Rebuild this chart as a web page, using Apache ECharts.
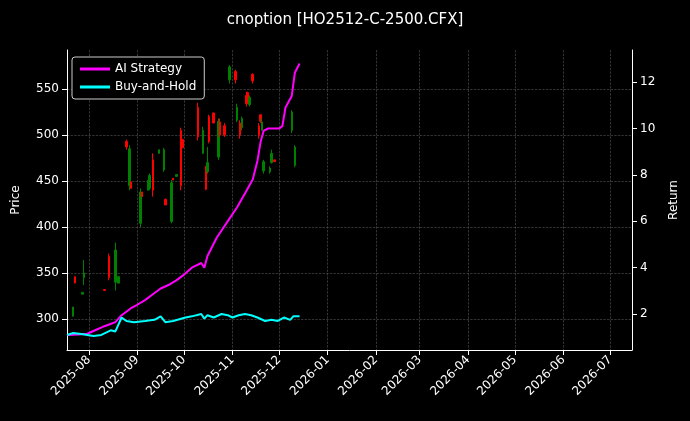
<!DOCTYPE html>
<html>
<head>
<meta charset="utf-8">
<script src="https://cdn.jsdelivr.net/npm/echarts@6/dist/echarts.min.js"></script>
<style>html,body{margin:0;background:#000}#c{width:690px;height:421px}</style>
</head>
<body>
<div id="c"></div>
<script>
// candles: [date, open, close, low, high]
var candles = [
  ['2025-07-22', 313, 303, 303, 313],
  ['2025-07-23', 339, 346, 339, 346],
  ['2025-07-28', 329, 327, 327, 329],
  ['2025-07-29', 350, 345, 337, 364],
  ['2025-08-11', 331, 332, 331, 332],
  ['2025-08-14', 345, 368, 342, 371],
  ['2025-08-18', 375, 340, 331, 383],
  ['2025-08-20', 346, 339, 339, 346],
  ['2025-08-25', 487, 493, 484, 495],
  ['2025-08-27', 485, 445, 440, 489],
  ['2025-08-28', 442, 449, 442, 450],
  ['2025-09-03', 438, 404, 400, 442],
  ['2025-09-04', 433, 438, 433, 438],
  ['2025-09-08', 447, 440, 440, 451],
  ['2025-09-09', 456, 442, 440, 458],
  ['2025-09-11', 440, 473, 433, 480],
  ['2025-09-15', 484, 480, 480, 484],
  ['2025-09-18', 484, 462, 460, 486],
  ['2025-09-19', 424, 430, 424, 431],
  ['2025-09-23', 448, 406, 404, 451],
  ['2025-09-24', 451, 453, 451, 453],
  ['2025-09-26', 457, 455, 455, 457],
  ['2025-09-29', 445, 505, 440, 508],
  ['2025-09-30', 486, 495, 486, 495],
  ['2025-10-10', 498, 530, 494, 535],
  ['2025-10-13', 505, 480, 480, 509],
  ['2025-10-15', 441, 466, 440, 466],
  ['2025-10-16', 470, 460, 458, 487],
  ['2025-10-17', 493, 520, 491, 522],
  ['2025-10-20', 513, 524, 513, 524],
  ['2025-10-23', 515, 476, 473, 518],
  ['2025-10-24', 500, 514, 498, 518],
  ['2025-10-27', 500, 510, 498, 513],
  ['2025-10-30', 574, 560, 556, 576],
  ['2025-11-03', 560, 569, 556, 571],
  ['2025-11-04', 530, 516, 514, 534],
  ['2025-11-06', 500, 513, 496, 516],
  ['2025-11-07', 518, 508, 505, 520],
  ['2025-11-10', 534, 543, 531, 547],
  ['2025-11-11', 538, 546, 536, 547],
  ['2025-11-12', 541, 533, 531, 543],
  ['2025-11-14', 559, 566, 556, 567],
  ['2025-11-18', 500, 510, 496, 513],
  ['2025-11-19', 515, 522, 513, 522],
  ['2025-11-20', 514, 505, 505, 518],
  ['2025-11-21', 471, 461, 458, 473],
  ['2025-11-25', 464, 460, 458, 466],
  ['2025-11-26', 480, 470, 469, 484],
  ['2025-11-28', 471, 473, 471, 473],
  ['2025-12-09', 525, 505, 502, 527],
  ['2025-12-11', 487, 467, 465, 489]
];
var aiStrategy = [
  ['2025-07-18', 1.10], ['2025-07-25', 1.12], ['2025-07-31', 1.15], ['2025-08-05', 1.30],
  ['2025-08-10', 1.45], ['2025-08-14', 1.55], ['2025-08-18', 1.65], ['2025-08-22', 1.95],
  ['2025-08-28', 2.25], ['2025-09-01', 2.40], ['2025-09-06', 2.60], ['2025-09-11', 2.85],
  ['2025-09-16', 3.10], ['2025-09-21', 3.25], ['2025-09-26', 3.45], ['2025-10-01', 3.70],
  ['2025-10-06', 4.00], ['2025-10-12', 4.20], ['2025-10-14', 4.00], ['2025-10-16', 4.50],
  ['2025-10-19', 4.90], ['2025-10-22', 5.30], ['2025-10-25', 5.60], ['2025-10-30', 6.10],
  ['2025-11-04', 6.60], ['2025-11-09', 7.20], ['2025-11-14', 7.80], ['2025-11-17', 8.60],
  ['2025-11-19', 9.40], ['2025-11-21', 9.90], ['2025-11-24', 10.00], ['2025-12-01', 10.00],
  ['2025-12-03', 10.10], ['2025-12-05', 10.90], ['2025-12-09', 11.40], ['2025-12-11', 12.40],
  ['2025-12-14', 12.80]
];
var buyHold = [
  ['2025-07-18', 1.10], ['2025-07-22', 1.18], ['2025-07-26', 1.15], ['2025-07-31', 1.10],
  ['2025-08-04', 1.05], ['2025-08-09', 1.10], ['2025-08-15', 1.30], ['2025-08-18', 1.25],
  ['2025-08-22', 1.85], ['2025-08-25', 1.70], ['2025-08-30', 1.65], ['2025-09-06', 1.70],
  ['2025-09-12', 1.75], ['2025-09-16', 1.90], ['2025-09-19', 1.65], ['2025-09-24', 1.70],
  ['2025-10-02', 1.85], ['2025-10-06', 1.90], ['2025-10-12', 2.00], ['2025-10-14', 1.80],
  ['2025-10-16', 1.95], ['2025-10-20', 1.85], ['2025-10-25', 2.00], ['2025-10-29', 1.95],
  ['2025-11-01', 1.85], ['2025-11-05', 1.95], ['2025-11-09', 2.00], ['2025-11-13', 1.95],
  ['2025-11-17', 1.85], ['2025-11-22', 1.70], ['2025-11-26', 1.75], ['2025-11-30', 1.70],
  ['2025-12-04', 1.85], ['2025-12-08', 1.75], ['2025-12-10', 1.90], ['2025-12-14', 1.90]
];
var priceTicks = [300, 350, 400, 450, 500, 550];
var returnTicks = [2, 4, 6, 8, 10, 12];

var chart = echarts.init(document.getElementById('c'));
var gridLine = { show: true, lineStyle: { color: '#555', type: 'dashed', width: 0.6 } };
var txt = { color: '#fff', fontSize: 12, fontFamily: 'DejaVu Sans' };
chart.setOption({
  backgroundColor: '#000',
  animation: false,
  title: {
    text: 'cnoption [HO2512-C-2500.CFX]', left: 'center', top: 8,
    textStyle: { color: '#fff', fontSize: 15, fontWeight: 'normal', fontFamily: 'DejaVu Sans' }
  },
  legend: {
    left: 72, top: 57, orient: 'vertical', itemGap: 6,
    backgroundColor: '#000', borderColor: '#ccc', borderWidth: 1, borderRadius: 3, padding: [6, 8],
    itemWidth: 30, itemHeight: 3,
    textStyle: txt,
    data: [{ name: 'AI Strategy', icon: 'rect' }, { name: 'Buy-and-Hold', icon: 'rect' }]
  },
  grid: { left: 67, right: 58, top: 50, bottom: 71 },
  xAxis: {
    type: 'time', min: '2025-07-18', max: '2026-07-15',
    minInterval: 28 * 86400000, maxInterval: 31 * 86400000,
    axisLine: { lineStyle: { color: '#fff' } },
    axisTick: { lineStyle: { color: '#fff' } },
    axisLabel: Object.assign({ rotate: 45, formatter: '{yyyy}-{MM}', hideOverlap: false }, txt),
    splitLine: gridLine
  },
  yAxis: [{
    type: 'value', min: 266.3, max: 592.4,
    name: 'Price', nameLocation: 'middle', nameGap: 45, nameTextStyle: txt,
    axisLine: { show: true, lineStyle: { color: '#fff' } },
    axisTick: { show: true, customValues: priceTicks },
    axisLabel: Object.assign({ customValues: priceTicks }, txt),
    splitLine: gridLine
  }, {
    type: 'value', min: 0.45, max: 13.38,
    name: 'Return', nameLocation: 'middle', nameGap: 36, nameTextStyle: txt,
    axisLine: { show: true, lineStyle: { color: '#fff' } },
    axisTick: { show: true, customValues: returnTicks },
    axisLabel: Object.assign({ customValues: returnTicks }, txt),
    splitLine: { show: false }
  }],
  series: [{
    type: 'candlestick', yAxisIndex: 0, barWidth: 2,
    itemStyle: { color: '#ff0000', color0: '#008000', borderColor: '#ff0000', borderColor0: '#008000' },
    data: candles.map(function (c) { return [c[0], c[1], c[2], c[3], c[4]]; })
  }, {
    name: 'AI Strategy', type: 'line', yAxisIndex: 1, showSymbol: false,
    lineStyle: { color: '#ff00ff', width: 2 }, itemStyle: { color: '#ff00ff' },
    data: aiStrategy
  }, {
    name: 'Buy-and-Hold', type: 'line', yAxisIndex: 1, showSymbol: false,
    lineStyle: { color: '#00ffff', width: 2 }, itemStyle: { color: '#00ffff' },
    data: buyHold
  }]
});
</script>
</body>
</html>
